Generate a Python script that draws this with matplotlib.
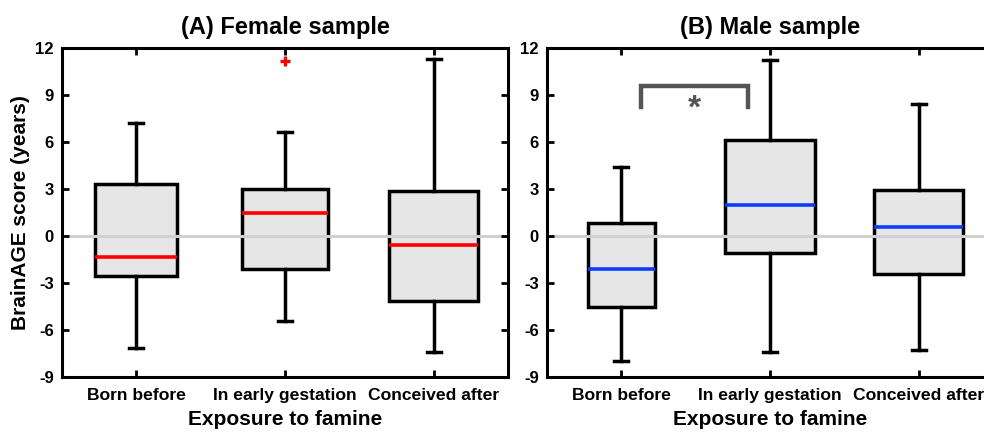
import matplotlib
matplotlib.use("Agg")
import matplotlib.pyplot as plt

plt.rcParams['font.family'] = ['Liberation Sans', 'DejaVu Sans']
plt.rcParams['font.weight'] = 'bold'

categories = ["Born before", "In early gestation", "Conceived after"]
yticks = [-9, -6, -3, 0, 3, 6, 9, 12]

# female sample box statistics
female_whislo = [-7.14, -5.44, -7.40]
female_q1 = [-2.55, -2.10, -4.16]
female_med = [-1.36, 1.43, -0.59]
female_q3 = [3.32, 2.98, 2.84]
female_whishi = [7.20, 6.64, 11.30]
female_fliers = [[], [11.15], []]

# male sample box statistics
male_whislo = [-8.00, -7.40, -7.30]
male_q1 = [-4.55, -1.08, -2.44]
male_med = [-2.12, 1.94, 0.54]
male_q3 = [0.81, 6.11, 2.90]
male_whishi = [4.37, 11.24, 8.43]
male_fliers = [[], [], []]

# significance bracket (male: born before vs early gestation)
sig_y_top = 9.56
sig_y_bottom = 8.23
sig_label = "*"

W, H = 984, 437
fig = plt.figure(figsize=(W / 100, H / 100), dpi=100)

def make_stats(lo, q1, med, q3, hi, fl):
    out = []
    for i in range(len(lo)):
        out.append(dict(whislo=lo[i], q1=q1[i], med=med[i], q3=q3[i],
                        whishi=hi[i], fliers=fl[i], label=categories[i]))
    return out

def draw(ax, stats, med_color, widths, title):
    ax.axhline(0, color='#d0d0d0', lw=2.2, zorder=1.5)
    bp = ax.bxp(stats, positions=[1, 2, 3], widths=widths, patch_artist=True,
                showfliers=True,
                boxprops=dict(facecolor='#e6e6e6', edgecolor='black', linewidth=2.5),
                medianprops=dict(color=med_color, linewidth=2.6),
                whiskerprops=dict(color='black', linewidth=2.5),
                capprops=dict(color='black', linewidth=2.5),
                flierprops=dict(marker='+', markeredgecolor='red', markersize=7,
                                markeredgewidth=2.4, linestyle='none'),
                capwidths=[0.095, 0.095, 0.095])
    for b in bp['boxes']:
        b.set_zorder(1)
    for k in ('medians', 'whiskers', 'caps', 'fliers'):
        for a in bp[k]:
            a.set_zorder(3)
    ax.set_xlim(0.5, 3.5)
    ax.set_ylim(-9, 12)
    ax.set_yticks(yticks)
    ax.set_yticklabels([str(v) for v in yticks], fontsize=12, fontweight='bold')
    ax.set_xticks([1, 2, 3])
    ax.set_xticklabels(categories, fontsize=12.6, fontweight='bold')
    ax.tick_params(direction='in', top=True, right=True, length=5, width=2,
                   pad=6)
    ax.tick_params(axis='x', pad=8)
    for s in ax.spines.values():
        s.set_linewidth(2.2)
    ax.set_xlabel("Exposure to famine", fontsize=15, fontweight='bold', labelpad=5)
    ax.set_title(title, fontsize=17, fontweight='bold', pad=10)

ax1 = fig.add_axes([62 / W, 1 - 376.7 / H, 446 / W, 329 / H])
draw(ax1, make_stats(female_whislo, female_q1, female_med, female_q3,
                     female_whishi, female_fliers),
     'red', [0.55, 0.58, 0.6], "(A) Female sample")
ax1.set_ylabel("BrainAGE score (years)", fontsize=15, fontweight='bold', labelpad=4)

ax2 = fig.add_axes([547 / W, 1 - 376.7 / H, 446 / W, 329 / H])
draw(ax2, make_stats(male_whislo, male_q1, male_med, male_q3,
                     male_whishi, male_fliers),
     '#0a3cff', [0.45, 0.6, 0.6], "(B) Male sample")
ax2.plot([1.13, 1.13, 1.85, 1.85], [sig_y_bottom, sig_y_top, sig_y_top, sig_y_bottom],
         color='#555555', lw=3.2, solid_joinstyle='miter', zorder=4)
ax2.text(1.49, 8.1, sig_label, ha='center', va='center', fontsize=24,
         fontweight='bold', color='#555555')

fig.savefig("out.png", dpi=100)
